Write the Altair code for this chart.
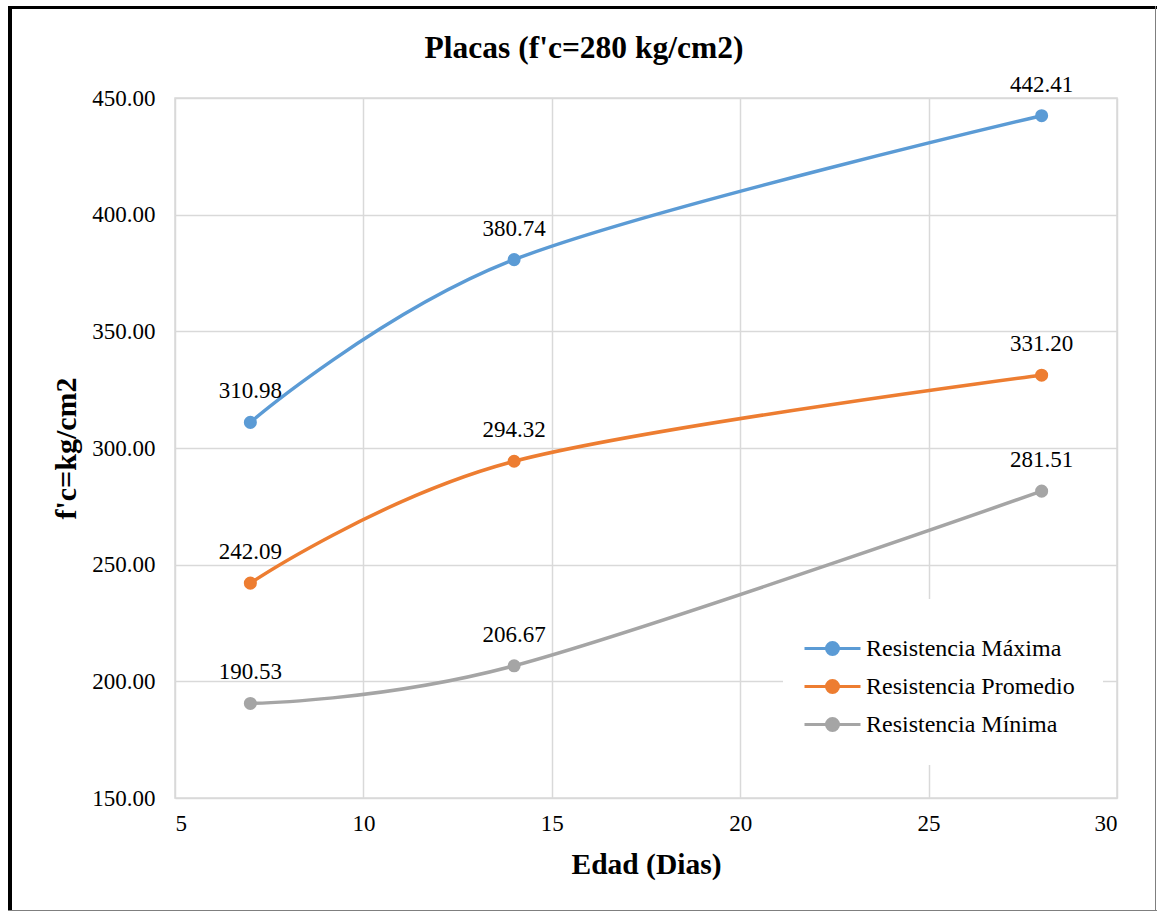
import altair as alt
import pandas as pd

edad = [7, 14, 28]
series_names = ["Resistencia Máxima", "Resistencia Promedio", "Resistencia Mínima"]
maxima = [310.98, 380.74, 442.41]
promedio = [242.09, 294.32, 331.20]
minima = [190.53, 206.67, 281.51]
colors = ["#5B9BD5", "#ED7D31", "#A5A5A5"]

rows = []
for name, vals in zip(series_names, [maxima, promedio, minima]):
    for i, (x, y) in enumerate(zip(edad, vals)):
        rows.append({"Edad": x, "fc": y, "Serie": name, "orden": i})
df = pd.DataFrame(rows)

FONT = "Liberation Serif"
W, H = 942, 700
PL, PT = 175, 98

xenc = alt.X("Edad:Q", scale=alt.Scale(domain=[5, 30], nice=False, zero=False),
             axis=alt.Axis(values=[5, 10, 15, 20, 25, 30], title="Edad (Dias)",
                           labelFont=FONT, titleFont=FONT,
                           labelFontSize=23, titleFontSize=29.5, titlePadding=15,
                           labelPadding=14))
yenc = alt.Y("fc:Q", scale=alt.Scale(domain=[150, 450], nice=False, zero=False),
             axis=alt.Axis(values=[150, 200, 250, 300, 350, 400, 450], format=".2f",
                           labelFont=FONT, titleFont=FONT,
                           title="f'c=kg/cm2", labelFontSize=23, titleFontSize=30,
                           titlePadding=10, labelPadding=20))
color = alt.Color("Serie:N", scale=alt.Scale(domain=series_names, range=colors),
                  sort=series_names,
                  legend=alt.Legend(title=None, orient="none", legendX=608, legendY=501,
                                    labelFontSize=24, labelFont=FONT, labelColor="#000",
                                    labelLimit=500,
                                    symbolType="M -1.4 0 L 1.4 0 M 0.3 0 A 0.3 0.3 0 1 1 -0.3 0 A 0.3 0.3 0 1 1 0.3 0",
                                    symbolSize=1600, symbolStrokeWidth=3,
                                    rowPadding=4, labelOffset=12,
                                    fillColor="white", padding=28))

base = alt.Chart(df)
lines = base.mark_line(interpolate="cardinal", tension=0, strokeWidth=3.5).encode(
    x=xenc, y=yenc, color=color, order="orden:Q")
points = base.mark_circle(size=170, opacity=1).encode(
    x="Edad:Q", y="fc:Q",
    color=alt.Color("Serie:N", scale=alt.Scale(domain=series_names, range=colors), legend=None))
labels = base.mark_text(fontSize=23, font=FONT, dy=-31, color="#000").encode(
    x="Edad:Q", y="fc:Q", text=alt.Text("fc:Q", format=".2f"))

frame_df = pd.DataFrame({"k": [0]})
fb = alt.Chart(frame_df)
left = fb.mark_rule(color="black", strokeWidth=4).encode(
    x=alt.value(10 - PL), y=alt.value(6 - PT), y2=alt.value(911 - PT))
top = fb.mark_rule(color="black", strokeWidth=3).encode(
    x=alt.value(8 - PL), x2=alt.value(1157 - PL), y=alt.value(7.5 - PT))
right = fb.mark_rule(color="#7f7f7f", strokeWidth=1).encode(
    x=alt.value(1155.5 - PL), y=alt.value(6 - PT), y2=alt.value(911 - PT))
bottom = fb.mark_rule(color="#7f7f7f", strokeWidth=1).encode(
    x=alt.value(8 - PL), x2=alt.value(1157 - PL), y=alt.value(910.5 - PT))

chart = alt.layer(lines, points, labels, left, top, right, bottom).properties(
    width=W, height=H,
    background="white",
    autosize=alt.AutoSizeParams(type="none"),
    padding={"left": PL, "top": PT, "right": 1157 - PL - W, "bottom": 912 - PT - H},
    title=alt.TitleParams("Placas (f'c=280 kg/cm2)", fontSize=31.5, font=FONT,
                          fontWeight="bold", color="#000", dx=-62, offset=-60,
                          frame="group", anchor="middle"),
).configure_view(stroke="#d9d9d9", strokeWidth=1.5).configure_axis(
    labelFont=FONT, titleFont=FONT, labelColor="#000", titleColor="#000",
    gridColor="#d9d9d9", gridWidth=1.5, domain=False, ticks=False,
    titleFontWeight="bold",
)

chart.save("out.html", embed_options={"renderer": "svg", "actions": False})
